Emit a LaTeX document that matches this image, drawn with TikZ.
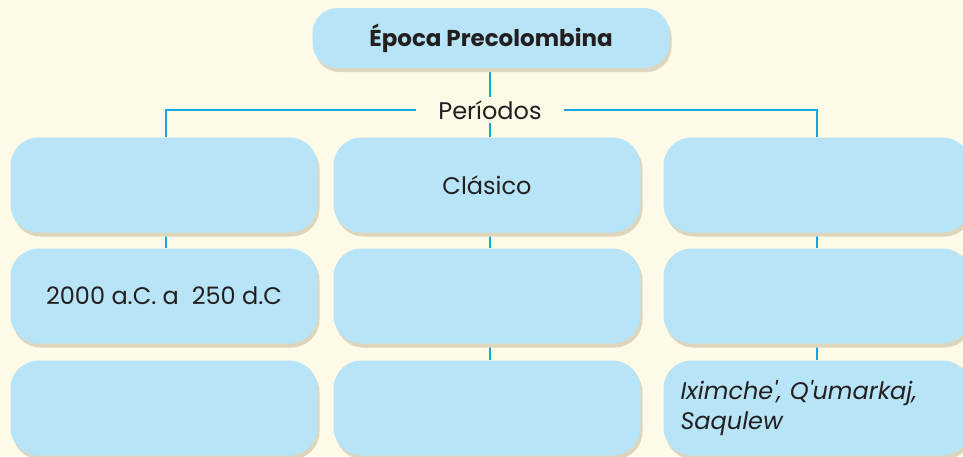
\documentclass[tikz,border=0pt]{standalone}
\usepackage{fontspec}
\setmainfont{Poppins}
\newfontfamily\plainquotes{Poppins}[Ligatures=TeXOff]
\usepackage{tikz}
\usetikzlibrary{shadows}

\definecolor{paper}{HTML}{FDFAE8}
\definecolor{boxblue}{HTML}{B8E4F8}
\definecolor{linkblue}{HTML}{12A5DF}
\definecolor{ink}{HTML}{231F20}
\definecolor{shade}{HTML}{DDD6BD}

\pgfdeclarelayer{back}
\pgfdeclarelayer{links}
\pgfsetlayers{back,links,main}

\begin{document}
\begin{tikzpicture}[
		x=1pt, y=-1pt
		,cell/.style={fill=boxblue, rounded corners=28pt, minimum width=307pt, minimum height=95pt
			,drop shadow={shadow xshift=2pt, shadow yshift=-4pt, fill=shade, opacity=1}
			,text=ink, font=\fontsize{24}{30}\selectfont}
		,head/.style={cell, minimum width=357pt, minimum height=60pt, rounded corners=25pt, font=\fontsize{23}{26}\selectfont\bfseries}
		,link/.style={draw=linkblue, line width=2pt}
	]
		\begin{pgfonlayer}{back}
			\fill[paper] (0,0) rectangle (963,456);
		\end{pgfonlayer}
		\useasboundingbox (0,0) rectangle (963,456);

		\node[head] (T) at (491,38) {Época Precolombina};
		\node[text=ink, font=\fontsize{24}{26}\selectfont, inner xsep=22pt, inner ysep=3pt] (P) at (490,110) {Períodos};

		\node[cell] (A1) at (164,185) {};
		\node[cell] (B1) at (487,185) {Clásico};
		\node[cell] (C1) at (817,185) {};

		\node[cell] (A2) at (164,296) {2000 a.C. a~~250 d.C};
		\node[cell] (B2) at (487,296) {};
		\node[cell] (C2) at (817,296) {};

		\node[cell] (A3) at (164,408) {};
		\node[cell] (B3) at (487,408) {};
		\node[cell, text width=273pt, inner xsep=17pt, align=left, font=\fontsize{24}{30}\selectfont\plainquotes\itshape] (C3) at (817,408) {Iximche', Q'umarkaj,\\Saqulew};

		\begin{pgfonlayer}{links}
			\draw[link] (T.south -| P) -- (P.north);
			\draw[link] (P.south) -- (P |- B1.north);
			\draw[link] (A1.north -| 166,0) |- (P.west);
			\draw[link] (C1.north) |- (P.east);
			\draw[link] (A1.south -| 166,0) -- (A2.north -| 166,0);
			\draw[link] (B1.south -| P) -- (B2.north -| P);
			\draw[link] (B2.south -| P) -- (B3.north -| P);
			\draw[link] (C1) -- (C2);
			\draw[link] (C2) -- (C3);
		\end{pgfonlayer}
	\end{tikzpicture}
\end{document}
